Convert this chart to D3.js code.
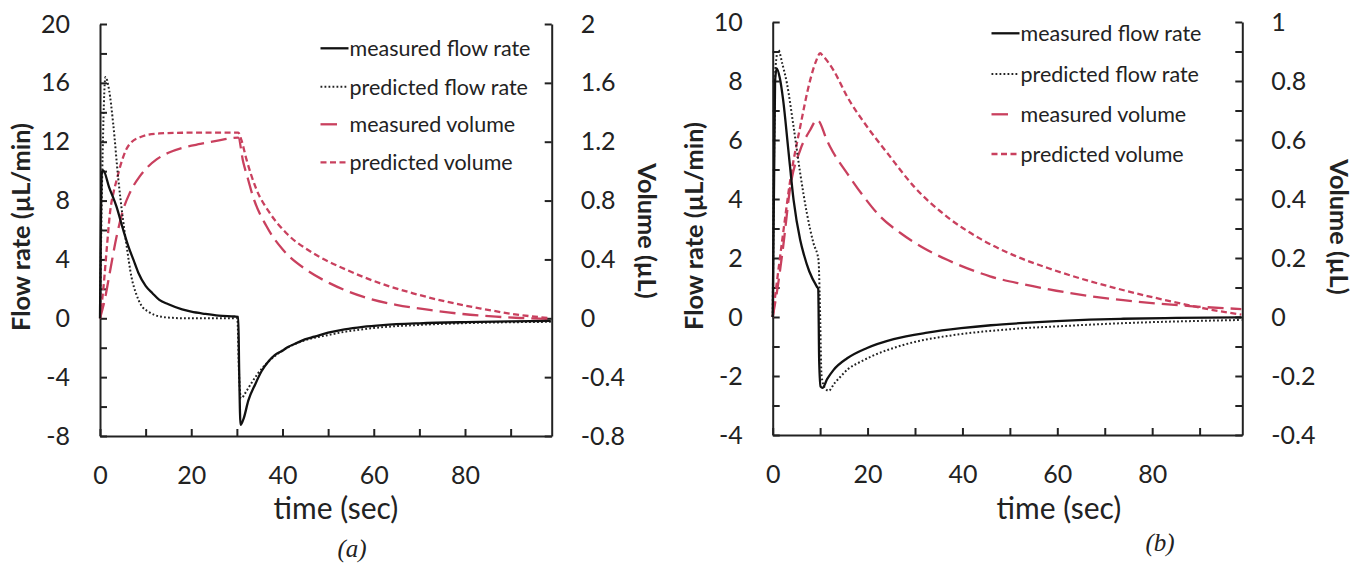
<!DOCTYPE html>
<html><head><meta charset="utf-8">
<script src="https://cdn.jsdelivr.net/npm/d3@7"></script>
<style>
body{margin:0;background:#fff}
svg text{font-family:Lato,'Open Sans',sans-serif;fill:#222}
</style>
</head><body>
<svg id="c" width="1366" height="568"></svg>
<script>
// ---------- tick values & labels ----------
const timeTicks = [0,10,20,30,40,50,60,70,80,90];
const timeTickLabels = ["0","","20","","40","","60","","80",""];
const flowTicksA = [-8,-6,-4,-2,0,2,4,6,8,10,12,14,16,18,20];
const flowTickLabelsA = ["-8","","-4","","0","","4","","8","","12","","16","","20"];
const volTicksA = [-0.8,-0.4,0,0.4,0.8,1.2,1.6,2];
const volTickLabelsA = ["-0.8","-0.4","0","0.4","0.8","1.2","1.6","2"];
const flowTicksB = [-4,-3,-2,-1,0,1,2,3,4,5,6,7,8,9,10];
const flowTickLabelsB = ["-4","","-2","","0","","2","","4","","6","","8","","10"];
const volTicksB = [-0.4,-0.3,-0.2,-0.1,0,0.1,0.2,0.3,0.4,0.5,0.6,0.7,0.8,0.9,1];
const volTickLabelsB = ["-0.4","","-0.2","","0","","0.2","","0.4","","0.6","","0.8","","1"];
const seriesNames = ["measured flow rate","predicted flow rate","measured volume","predicted volume"];
const panelTags = ["(a)","(b)"];

// ---------- panel (a) data: [time s, value] ----------
const measuredFlowA = [[0,0],[0.4,9.9],[0.7,10.05],[2,8.9],[3.6,7.6],[5,6.1],[6.2,4.9],[7.3,4.0],[8.4,3.1],[10,2.2],[11.5,1.7],[13,1.25],[15,0.95],[18,0.6],[20,0.45],[23,0.3],[26,0.18],[29.5,0.12],[30.3,0.1],[30.5,-3.5],[30.8,-7.25],[31.5,-6.8],[32.5,-5.6],[34,-4.5],[35.4,-3.6],[37,-2.9],[38.3,-2.5],[40,-2.2],[41.2,-1.95],[43,-1.7],[44.9,-1.43],[47,-1.25],[50,-0.98],[53.6,-0.75],[57.6,-0.58],[62,-0.46],[70,-0.34],[80,-0.26],[90,-0.21],[98.8,-0.18]];
const predictedFlowA = [[0,0],[0.5,10],[1.2,16.4],[2,15.5],[2.9,13.2],[4,9.5],[5,6.8],[5.8,5.0],[6.9,2.8],[8,1.6],[9,0.9],[10.6,0.45],[12,0.22],[13.5,0.1],[16,0.03],[18,0],[30.1,0],[30.5,-4],[30.9,-5.45],[32,-5.0],[33.2,-4.4],[34.5,-3.8],[36.1,-3.2],[39,-2.4],[42.7,-1.75],[46,-1.4],[50,-1.14],[53.6,-0.92],[60,-0.66],[70,-0.45],[80,-0.33],[90,-0.27],[98.8,-0.24]];
const measuredVolumeA = [[0,0],[1,0.12],[2.2,0.32],[3.6,0.55],[5.1,0.74],[6.5,0.85],[8.75,0.966],[10.5,1.03],[12.4,1.08],[15,1.125],[18.2,1.16],[22,1.185],[25.5,1.205],[30.3,1.228],[31.4,1.06],[32.4,0.95],[33.5,0.83],[36.5,0.625],[40.1,0.466],[45.2,0.33],[50.3,0.239],[57.6,0.147],[64.9,0.091],[72.2,0.057],[79.5,0.029],[86.8,0.011],[92,0.002],[98.8,-0.005]];
const predictedVolumeA = [[0,0],[0.7,0.19],[1.5,0.48],[2.2,0.72],[3,0.86],[3.65,0.94],[4.5,1.04],[5.8,1.15],[7,1.2],[8.75,1.23],[10.5,1.248],[13,1.256],[18,1.261],[30.3,1.262],[31,1.21],[32.1,1.08],[34.3,0.875],[37.2,0.716],[40.8,0.58],[46.7,0.443],[54,0.33],[61.3,0.239],[68.6,0.17],[75.9,0.113],[83.2,0.068],[90.5,0.029],[98.8,0.0]];

// ---------- panel (b) data ----------
const measuredFlowB = [[0,0],[0.5,8.0],[0.85,8.43],[1.5,8.1],[2.2,7.36],[3.3,5.66],[4.4,3.97],[5.8,2.61],[6.6,2.1],[7.7,1.55],[9.3,1.03],[9.6,0.95],[9.8,-1.5],[10.1,-2.36],[10.5,-2.4],[11.5,-2.1],[12.8,-1.8],[15.7,-1.4],[19.9,-1.05],[25.5,-0.75],[32.6,-0.53],[39.7,-0.38],[46,-0.28],[52,-0.21],[59.8,-0.14],[66.8,-0.09],[73.9,-0.06],[85,-0.03],[98.8,-0.01]];
const predictedFlowB = [[0,0],[0.6,8.5],[1.2,9.05],[2,8.6],[3,7.92],[4.4,6.45],[5.8,4.87],[7.2,3.52],[8.6,2.5],[9.66,1.93],[9.9,0.8],[10.3,-2.0],[11,-2.4],[11.8,-2.5],[13,-2.25],[14.3,-2.02],[16,-1.75],[18.5,-1.52],[21,-1.32],[24.2,-1.12],[27.5,-0.95],[31.2,-0.8],[35,-0.69],[39.7,-0.58],[44,-0.5],[48.2,-0.44],[52.8,-0.38],[59.8,-0.32],[66.8,-0.26],[73.9,-0.21],[80.9,-0.17],[87.9,-0.14],[98.8,-0.1]];
const measuredVolumeB = [[0,0],[0.85,0.08],[2.2,0.238],[3.7,0.44],[5.8,0.566],[7.9,0.634],[9.3,0.668],[9.7,0.665],[11.4,0.6],[12.1,0.577],[15.7,0.487],[19.2,0.408],[22.7,0.34],[27,0.284],[31.9,0.233],[36.9,0.193],[42.5,0.156],[45.8,0.138],[52.8,0.111],[59.8,0.089],[66.8,0.071],[73.9,0.057],[80.9,0.046],[87.9,0.037],[95,0.03],[98.8,0.027]];
const predictedVolumeB = [[0,0],[0.85,0.114],[2.2,0.284],[3.7,0.464],[5.8,0.645],[7.9,0.803],[9.2,0.87],[10,0.894],[10.6,0.885],[12.8,0.837],[15.7,0.747],[19.9,0.645],[24.2,0.555],[29.8,0.442],[36.9,0.338],[43.9,0.264],[51,0.208],[58,0.166],[65,0.13],[72,0.099],[79,0.071],[86,0.046],[92,0.026],[98.8,0.008]];

const timeDomain = [0, 99];

// ---------- drawing ----------
const svg = d3.select("#c");
const RED = "#c9405e";
const INK = "#222";
const styles = [
  {stroke:"#111", width:2.3, dash:null},
  {stroke:"#222", width:2, dash:"1.8,2.2"},
  {stroke:RED, width:2.3, dash:"16,7"},
  {stroke:RED, width:2.3, dash:"6,3.5"}
];

const panels = [
  {x:[100,551.7], y:[436,24], flowDomain:[-8,20], volDomain:[-0.8,2],
   flowTicks:flowTicksA, flowLabels:flowTickLabelsA, volTicks:volTicksA, volLabels:volTickLabelsA,
   series:[measuredFlowA,predictedFlowA,measuredVolumeA,predictedVolumeA],
   legend:{x:320.5, ys:[48.3,86.7,124.3,162.3]},
   flowTitle:[30,227], volTitle:[638,231], timeTitle:[336,519], tag:[352,557]},
  {x:[772.7,1242.3], y:[435,22], flowDomain:[-4,10], volDomain:[-0.4,1],
   flowTicks:flowTicksB, flowLabels:flowTickLabelsB, volTicks:volTicksB, volLabels:volTickLabelsB,
   series:[measuredFlowB,predictedFlowB,measuredVolumeB,predictedVolumeB],
   legend:{x:991.5, ys:[33.3,74,114.3,154]},
   flowTitle:[703,226], volTitle:[1330,227], timeTitle:[1059,519], tag:[1160,551]}
];

function styleAxis(g){
  g.attr("font-family",null).attr("font-size",null);
  g.select(".domain").attr("stroke",INK).attr("stroke-width",2);
  g.selectAll(".tick line").attr("stroke",INK).attr("stroke-width",2);
  g.selectAll(".tick text").style("font-size","25px").attr("fill",INK);
}

panels.forEach((p, pi) => {
  const x = d3.scaleLinear().domain(timeDomain).range(p.x);
  const yF = d3.scaleLinear().domain(p.flowDomain).range(p.y);
  const yV = d3.scaleLinear().domain(p.volDomain).range(p.y);
  const g = svg.append("g");

  // bottom axis
  const gx = g.append("g").attr("transform",`translate(0,${p.y[0]})`)
    .call(d3.axisBottom(x).tickValues(timeTicks).tickSize(-7).tickSizeOuter(0)
      .tickFormat((d,i)=>timeTickLabels[i]));
  styleAxis(gx);
  gx.selectAll(".tick text").attr("y",39).attr("dy","0.35em");

  // left axis (flow)
  const gl = g.append("g").attr("transform",`translate(${p.x[0]},0)`)
    .call(d3.axisLeft(yF).tickValues(p.flowTicks).tickSize(-7).tickSizeOuter(0).tickPadding(30)
      .tickFormat((d,i)=>p.flowLabels[i]));
  styleAxis(gl);

  // right axis (volume)
  const gr = g.append("g").attr("transform",`translate(${p.x[1]},0)`)
    .call(d3.axisRight(yV).tickValues(p.volTicks).tickSize(-7).tickSizeOuter(0).tickPadding(29)
      .tickFormat((d,i)=>p.volLabels[i]));
  styleAxis(gr);

  // series
  const order = [2,3,1,0];
  order.forEach(si => {
    const s = styles[si];
    const ys = si < 2 ? yF : yV;
    const line = d3.line().x(d=>x(d[0])).y(d=>ys(d[1])).curve(d3.curveMonotoneX);
    g.append("path").datum(p.series[si]).attr("d",line)
      .attr("fill","none").attr("stroke",s.stroke).attr("stroke-width",s.width)
      .attr("stroke-dasharray",s.dash).attr("stroke-linejoin","round");
  });

  // legend
  const lg = g.append("g");
  seriesNames.forEach((name, si) => {
    const s = styles[si];
    const yy = p.legend.ys[si];
    const len = si === 2 ? 16.5 : 28;
    lg.append("line").attr("x1",p.legend.x).attr("x2",p.legend.x+len)
      .attr("y1",yy).attr("y2",yy)
      .attr("stroke",s.stroke).attr("stroke-width",s.width)
      .attr("stroke-dasharray", si===2 ? null : s.dash);
    lg.append("text").attr("class","leg").attr("x",p.legend.x+29).attr("y",yy)
      .attr("dominant-baseline","central").style("font-size","21px").text(name);
  });

  // titles
  g.append("text").attr("class","ftitle")
    .attr("transform",`translate(${p.flowTitle[0]},${p.flowTitle[1]}) rotate(-90)`)
    .attr("text-anchor","middle").style("font-weight","bold").style("font-size","24px")
    .text("Flow rate (µL/min)");
  g.append("text").attr("class","vtitle")
    .attr("transform",`translate(${p.volTitle[0]},${p.volTitle[1]}) rotate(90)`)
    .attr("text-anchor","middle").style("font-weight","bold").style("font-size","24px")
    .text("Volume (µL)");
  g.append("text").attr("class","ttitle")
    .attr("x",p.timeTitle[0]).attr("y",p.timeTitle[1])
    .attr("text-anchor","middle").style("font-size","30px")
    .text("time (sec)");
  g.append("text")
    .attr("x",p.tag[0]).attr("y",p.tag[1])
    .attr("text-anchor","middle")
    .style("font-family","'Liberation Serif','DejaVu Serif',serif").style("font-style","italic").style("font-size","25px")
    .text(panelTags[pi]);
});

// fit text sizes to widths measured on the reference
function fitClass(cls, targetWidth){
  const nodes = svg.selectAll("text."+cls).nodes();
  if(!nodes.length) return;
  const n = nodes[0];
  const w = n.getComputedTextLength();
  const fs = parseFloat(n.style.fontSize);
  if (w > 0) {
    const nf = fs * targetWidth / w;
    nodes.forEach(m => m.style.fontSize = nf + "px");
  }
}
fitClass("leg", 181);
fitClass("ftitle", 208);
const ff = svg.select("text.ftitle").node().style.fontSize;
svg.selectAll("text.vtitle").style("font-size", ff);
</script>
</body></html>
